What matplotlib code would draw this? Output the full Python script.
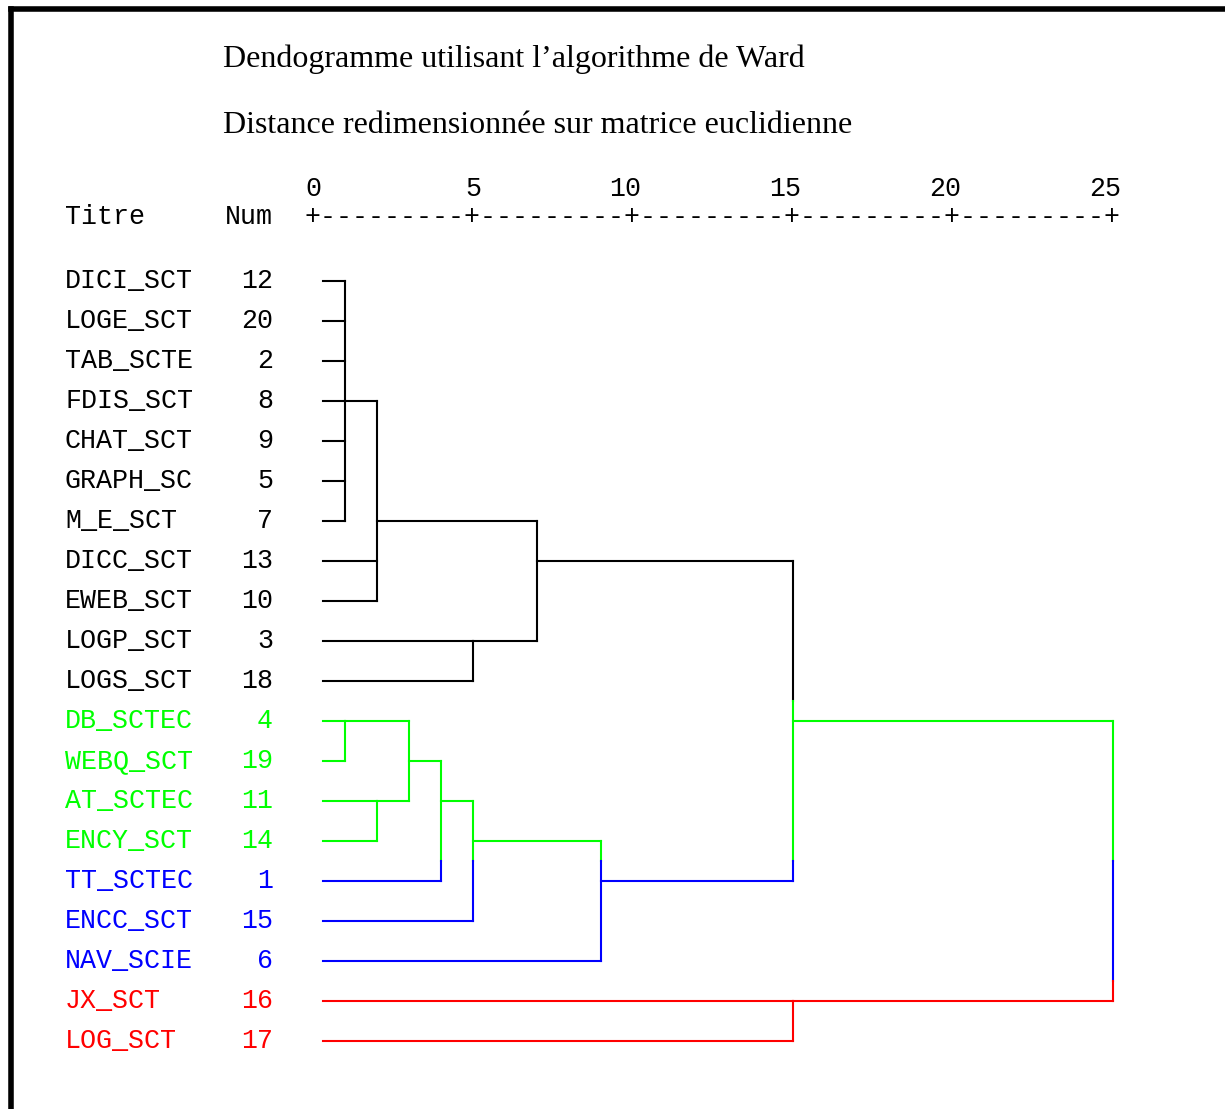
# -*- coding: utf-8 -*-
# Dendrogramme (Ward) - style sortie SPSS
import numpy as np
import matplotlib
matplotlib.use('Agg')
import matplotlib.pyplot as plt

# -----------------------
# donnees
# -----------------------
titres = ["DICI_SCT", "LOGE_SCT", "TAB_SCTE", "FDIS_SCT", "CHAT_SCT",
          "GRAPH_SC", "M_E_SCT", "DICC_SCT", "EWEB_SCT", "LOGP_SCT",
          "LOGS_SCT", "DB_SCTEC", "WEBQ_SCT", "AT_SCTEC", "ENCY_SCT",
          "TT_SCTEC", "ENCC_SCT", "NAV_SCIE", "JX_SCT", "LOG_SCT"]
nums = [12, 20, 2, 8, 9, 5, 7, 13, 10, 3, 18, 4, 19, 11, 14, 1, 15, 6, 16, 17]
groupe = [0] * 11 + [1] * 4 + [2] * 3 + [3] * 2
couleurs_groupe = ['black', '#00ff00', '#0000ff', '#ff0000']

# fusions : feuilles = 0..19 (ordre des lignes), noeud k -> 20 + k
fusions = [
    [0, 1, 2, 3, 4, 5, 6],   # 20
    [20, 7, 8],              # 21
    [9, 10],                 # 22
    [21, 22],                # 23
    [11, 12],                # 24
    [13, 14],                # 25
    [24, 25],                # 26
    [26, 15],                # 27
    [27, 16],                # 28
    [28, 17],                # 29
    [23, 29],                # 30
    [18, 19],                # 31
    [30, 31],                # 32
]
hauteurs = [1, 2, 5, 7, 1, 2, 3, 4, 5, 9, 15, 15, 25]

graduations = [0, 5, 10, 15, 20, 25]
titre1 = "Dendogramme utilisant l\u2019algorithme de Ward"
titre2 = "Distance redimensionnée sur matrice euclidienne"

# -----------------------
# mise en page
# -----------------------
W, H = 1225, 1109
fig = plt.figure(figsize=(W / 100, H / 100), dpi=100)
fig.patch.set_facecolor('white')

# l'axe sert de cadre (spines gauche + haut), 32 px par unite, 40 px par ligne
x0_px, y0_px = 313.0, 281.0
px_u, px_r = 32.0, 40.0
left_px, top_px = 10.5, 8.5
ax = fig.add_axes([left_px / W, 0, 1 - left_px / W, 1 - top_px / H])
ax.set_xlim((left_px - x0_px) / px_u, (W - x0_px) / px_u)
ax.set_ylim((H - y0_px) / px_r, (top_px - y0_px) / px_r)
ax.set_xticks([])
ax.set_yticks([])
for s in ['right', 'bottom']:
    ax.spines[s].set_visible(False)
for s in ['left', 'top']:
    ax.spines[s].set_linewidth(4.0)
    ax.spines[s].set_color('black')

mono = 'Liberation Mono'
serif = 'Liberation Serif'
fs_mono = 19.2
lw = 1.5
debut_feuille = 0.3

def couleur_ligne(r):
    return couleurs_groupe[groupe[int(r)]]

def trait_h(r, xa, xb):
    ax.plot([xa, xb], [r, r], color=couleur_ligne(r), lw=lw,
            solid_capstyle='projecting')

def trait_v(x, ra, rb):
    # decoupe le trait vertical selon la couleur de la ligne traversee
    morceaux = []
    for r in range(int(np.floor(ra)), int(np.ceil(rb)) + 1):
        a = max(ra, r - 0.5)
        b = min(rb, r + 0.5)
        if b <= a:
            continue
        c = couleur_ligne(r)
        if morceaux and morceaux[-1][2] == c:
            morceaux[-1][1] = b
        else:
            morceaux.append([a, b, c])
    for a, b, c in morceaux:
        ax.plot([x, x], [a, b], color=c, lw=lw, solid_capstyle='projecting')

# -----------------------
# dendrogramme
# -----------------------
pos_ligne = {i: i for i in range(len(titres))}
pos_x = {i: debut_feuille for i in range(len(titres))}
for k, (enfants, h) in enumerate(zip(fusions, hauteurs)):
    rows = [pos_ligne[e] for e in enfants]
    for e in enfants:
        trait_h(pos_ligne[e], pos_x[e], h)
    trait_v(h, min(rows), max(rows))
    # ligne de sortie = moyenne des lignes des enfants (arrondie vers le haut)
    pos_ligne[len(titres) + k] = int(np.floor(np.mean(rows)))
    pos_x[len(titres) + k] = h

# -----------------------
# textes
# -----------------------
x_titre = (65 - x0_px) / px_u
x_num = (273 - x0_px) / px_u
for i, (t, n) in enumerate(zip(titres, nums)):
    c = couleur_ligne(i)
    ax.text(x_titre, i + 0.175, t, family=mono, fontsize=fs_mono, color=c,
            ha='left', va='baseline')
    ax.text(x_num, i + 0.175, str(n), family=mono, fontsize=fs_mono, color=c,
            ha='right', va='baseline')

r_entete = (224 - y0_px) / px_r
ax.text(x_titre, r_entete, "Titre", family=mono, fontsize=fs_mono,
        ha='left', va='baseline')
ax.text(x_num, r_entete, "Num", family=mono, fontsize=fs_mono,
        ha='right', va='baseline')
regle = "+" + ("-" * 9 + "+") * (len(graduations) - 1)
ax.text(graduations[0] - 0.25, r_entete, regle, family=mono, fontsize=fs_mono,
        ha='left', va='baseline')
r_grad = (196 - y0_px) / px_r
for g in graduations:
    ax.text(g + 0.25, r_grad, str(g), family=mono, fontsize=fs_mono,
            ha='right', va='baseline')

x_t = (223 - x0_px) / px_u
ax.text(x_t, (67 - y0_px) / px_r, titre1, family=serif, fontsize=23,
        ha='left', va='baseline')
ax.text(x_t, (133 - y0_px) / px_r, titre2, family=serif, fontsize=23,
        ha='left', va='baseline')

fig.savefig('out.png', dpi=100, facecolor='white')
